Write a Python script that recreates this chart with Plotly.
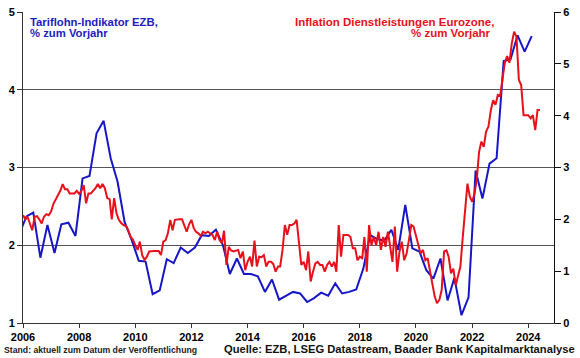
import pandas as pd
import plotly.graph_objects as go

# ---- Data ----
# Tariflohn-Indikator EZB, % yoy (quarterly, from 2005Q4)
wage_values = [
    2.15,
    2.37, 2.42, 1.84, 2.26,
    1.90, 2.27, 2.29, 2.12,
    2.86, 2.89, 3.44, 3.60,
    3.12, 2.82, 2.30, 2.07,
    1.80, 1.79, 1.37, 1.42,
    1.82, 1.77, 1.97, 1.90,
    1.97, 2.13, 2.12, 2.20,
    2.00, 1.63, 1.83, 1.63,
    1.63, 1.60, 1.40, 1.56,
    1.30, 1.35, 1.40, 1.38,
    1.27, 1.32, 1.39, 1.35,
    1.51, 1.38, 1.40, 1.43,
    1.70, 2.13, 2.08, 2.06,
    2.20, 1.94, 2.52, 1.96,
    1.92, 1.68, 1.57, 1.83,
    1.29, 1.58, 1.10, 1.33,
    2.96, 2.60, 3.05, 3.12,
    4.37, 4.39, 4.70, 4.49,
    4.69,
]

# Inflation Dienstleistungen Eurozone, % yoy (monthly, from Jan 2006)
services_values = [
    # 2006
    2.08, 2.00, 2.05, 1.92, 1.79, 2.05, 2.06, 2.00, 1.92, 2.05, 2.10, 2.08,
    # 2007
    2.15, 2.30, 2.38, 2.45, 2.55, 2.68, 2.58, 2.58, 2.50, 2.50, 2.50, 2.55,
    # 2008
    2.49, 2.55, 2.66, 2.31, 2.50, 2.50, 2.55, 2.60, 2.68, 2.60, 2.68, 2.60,
    # 2009
    2.41, 2.39, 2.00, 2.41, 2.12, 1.99, 1.93, 1.89, 1.87, 1.79, 1.66, 1.61,
    # 2010
    1.50, 1.41, 1.57, 1.31, 1.22, 1.28, 1.38, 1.39, 1.39, 1.39, 1.39, 1.31,
    # 2011
    1.57, 1.60, 1.73, 1.99, 1.79, 1.99, 2.00, 2.00, 2.00, 1.86, 1.76, 1.90,
    # 2012
    1.99, 1.83, 1.76, 1.73, 1.68, 1.76, 1.73, 1.76, 1.73, 1.70, 1.60, 1.76,
    # 2013
    1.60, 1.54, 1.78, 1.12, 1.47, 1.40, 1.38, 1.39, 1.41, 1.25, 1.38, 1.02,
    # 2014
    1.18, 1.28, 1.09, 1.59, 1.09, 1.28, 1.27, 1.31, 1.09, 1.18, 1.18, 1.14,
    # 2015
    0.99, 1.09, 1.09, 1.41, 1.89, 1.70, 1.89, 1.89, 1.92, 1.99, 1.47, 1.12,
    # 2016
    1.18, 1.02, 1.38, 0.80, 0.99, 1.15, 1.18, 1.12, 1.12, 0.99, 1.12, 1.18,
    # 2017
    1.09, 1.18, 0.99, 1.89, 1.28, 1.70, 1.70, 1.70, 1.66, 1.44, 1.44, 1.21,
    # 2018
    1.28, 1.25, 1.66, 0.99, 1.89, 1.50, 1.66, 1.50, 1.76, 1.41, 1.66, 1.47,
    # 2019
    1.76, 1.47, 1.18, 1.86, 0.99, 1.38, 1.57, 1.21, 1.34, 1.60, 1.89, 1.86,
    # 2020
    1.70, 1.50, 1.34, 1.41, 1.21, 1.25, 0.99, 0.70, 0.51, 0.38, 0.45, 0.64,
    # 2021
    1.38, 1.40, 1.28, 0.96, 1.05, 0.73, 0.89, 1.09, 1.66, 2.10, 2.69, 2.44,
    # 2022
    2.34, 2.50, 2.75, 3.30, 3.50, 3.40, 3.69, 3.79, 4.10, 4.30, 4.21, 4.40,
    # 2023
    4.38, 4.72, 5.01, 5.15, 5.02, 5.40, 5.62, 5.52, 4.69, 4.59, 4.01, 4.01,
    # 2024
    4.01, 3.95, 4.01, 3.72, 4.11, 4.11,
]

x_tickvals = ["2006-01-01", "2008-01-01", "2010-01-01", "2012-01-01", "2014-01-01",
              "2016-01-01", "2018-01-01", "2020-01-01", "2022-01-01", "2024-01-01"]
x_ticktext = ["2006", "2008", "2010", "2012", "2014", "2016", "2018", "2020", "2022", "2024"]

# quarterly series plotted mid-quarter, monthly series at month start
wage_dates = pd.date_range("2005-11-01", periods=len(wage_values), freq="3MS") + pd.Timedelta(days=14)
services_dates = pd.date_range("2006-01-01", periods=len(services_values), freq="MS")

BLUE = "#1616c8"
RED = "#e8101a"
FONT = "Liberation Sans, Arial, sans-serif"

fig = go.Figure()
fig.add_trace(go.Scatter(x=wage_dates, y=wage_values, mode="lines",
                         line=dict(color=BLUE, width=2), yaxis="y"))
fig.add_trace(go.Scatter(x=services_dates, y=services_values, mode="lines",
                         line=dict(color=RED, width=2), yaxis="y2"))

tickfont = dict(family=FONT, size=11, color="#000", weight="bold")

fig.update_layout(
    template="none",
    width=580, height=358,
    margin=dict(l=23, r=26, t=12, b=35, autoexpand=False),
    paper_bgcolor="white", plot_bgcolor="white",
    showlegend=False,
    xaxis=dict(
        type="date", range=["2006-01-01", "2024-12-01"],
        tickvals=x_tickvals, ticktext=x_ticktext,
        showgrid=False, showline=True, linecolor="#333", linewidth=1,
        ticks="outside", ticklen=4, tickcolor="#333",
        tickfont=tickfont, zeroline=False, automargin=False,
    ),
    yaxis=dict(
        range=[1, 5], dtick=1, tick0=1,
        showgrid=True, gridcolor="#555", gridwidth=1,
        showline=True, linecolor="#333", linewidth=1,
        ticks="outside", ticklen=5, tickcolor="#333",
        tickfont=tickfont, zeroline=False, automargin=False,
    ),
    yaxis2=dict(
        range=[0, 6], dtick=1, tick0=0, overlaying="y", side="right",
        showgrid=False, showline=True, linecolor="#111", linewidth=1,
        ticks="outside", ticklen=6, tickcolor="#111",
        tickfont=tickfont, zeroline=False, automargin=False,
    ),
)

ann_font_b = dict(family=FONT, size=11.3, color="#1c1cc0", weight="bold")
ann_font_r = dict(family=FONT, size=11.5, color="#e8101a", weight="bold")
fig.add_annotation(text="Tariflohn-Indikator EZB,", xref="paper", yref="paper",
                   x=0.009, y=0.969, xanchor="left", yanchor="middle", showarrow=False, font=ann_font_b)
fig.add_annotation(text="% zum Vorjahr", xref="paper", yref="paper",
                   x=0.009, y=0.9325, xanchor="left", yanchor="middle", showarrow=False, font=ann_font_b)
fig.add_annotation(text="Inflation Dienstleistungen Eurozone,", xref="paper", yref="paper",
                   x=0.891, y=0.969, xanchor="right", yanchor="middle", showarrow=False, font=ann_font_r)
fig.add_annotation(text="% zum Vorjahr", xref="paper", yref="paper",
                   x=0.885, y=0.9325, xanchor="right", yanchor="middle", showarrow=False, font=ann_font_r)

fig.add_annotation(text="Stand: aktuell zum Datum der Veröffentlichung", xref="paper", yref="paper",
                   x=-0.040, y=-0.088, xanchor="left", yanchor="middle", showarrow=False,
                   font=dict(family=FONT, size=8.7, color="#222", weight="bold"))
fig.add_annotation(text="Quelle: EZB, LSEG Datastream, Baader Bank Kapitalmarktanalyse", xref="paper", yref="paper",
                   x=1.044, y=-0.082, xanchor="right", yanchor="middle", showarrow=False,
                   font=dict(family=FONT, size=11.2, color="#111", weight="bold"))

fig.write_html("out.html", config={"displayModeBar": False},
               post_script="document.body.style.margin='0';")
